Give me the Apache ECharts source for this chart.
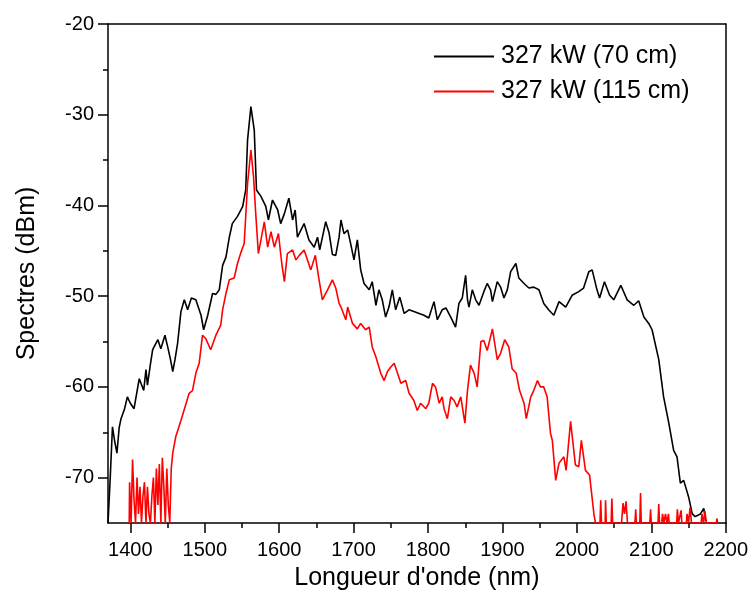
<!DOCTYPE html>
<html>
<head>
<meta charset="utf-8">
<script src="https://cdn.jsdelivr.net/npm/echarts@6/dist/echarts.min.js"></script>
<style>
  html, body { margin: 0; padding: 0; background: #fff; }
  #main { width: 751px; height: 601px; }
</style>
</head>
<body>
<div id="main"></div>
<script>
// spectre 327 kW, 70 cm de fibre
var blackNm = [1370, 1373, 1376, 1379, 1382, 1385, 1387.5, 1392, 1396, 1400, 1405, 1409, 1412, 1418, 1421, 1423, 1427, 1430, 1437, 1441,
  1446.5, 1450, 1454, 1457, 1460, 1463.5, 1468, 1472.5, 1477, 1482, 1488, 1495, 1498.5, 1504, 1510.5, 1515, 1519.5, 1524, 1528.5, 1533,
  1537, 1544, 1551, 1555, 1557.5, 1562, 1566.5, 1569.5, 1575.5, 1582, 1585.5, 1591, 1598, 1602, 1607, 1613, 1618, 1621.5, 1624.5, 1633.5,
  1640, 1647, 1651.5, 1654.5, 1662.5, 1667, 1671.5, 1676, 1680.5, 1683, 1687, 1692, 1696, 1700.5, 1705, 1709.5, 1714, 1721, 1725, 1730,
  1734, 1738.5, 1743, 1747.5, 1752, 1756.5, 1762, 1768, 1774.5, 1781, 1788, 1794.5, 1801, 1808, 1812.5, 1819, 1824, 1830.5, 1837, 1841.5,
  1846, 1850.5, 1853, 1855, 1859.5, 1864, 1868.5, 1875, 1879.5, 1884, 1886.5, 1893, 1897.5, 1902, 1906.5, 1911, 1918, 1922, 1929, 1935.5,
  1942, 1949, 1955.5, 1962, 1969, 1976, 1985, 1993.5, 2002.5, 2009, 2016, 2020.5, 2027, 2030.5, 2037, 2044, 2049.5, 2059, 2067.5, 2076.5,
  2083, 2090, 2096.5, 2101, 2110, 2116.5, 2123.5, 2130, 2134.5, 2139, 2143.5, 2150, 2155, 2159, 2166, 2170.5, 2173];
var blackDb = [-75, -70, -64.4, -66, -67.3, -64.5, -63.5, -62.5, -61.1, -61.8, -62.4, -60.5, -59.1, -60.4, -58.1, -59.8, -57.5, -55.9, -54.8, -55.8,
  -54.3, -55.5, -57, -58.3, -57, -55.2, -51.7, -50.4, -51.5, -50.2, -50.4, -52.1, -53.7, -52.1, -49.7, -49.8, -49.3, -46.6, -45.7, -43.5,
  -42.0, -41.2, -40.1, -38.3, -32.8, -29.1, -31.7, -38.3, -39.0, -40.1, -41.6, -39.4, -40.5, -42.0, -40.9, -39.2, -41.6, -40.5, -43.5, -42.0,
  -43.8, -44.6, -43.5, -44.9, -41.8, -43, -45.4, -45.5, -43.5, -41.6, -43.1, -42.7, -44.2, -46.0, -43.8, -47.1, -48.6, -49.3, -48.4, -51.0,
  -49.3, -50.4, -52.3, -51.2, -49.3, -51.5, -50.1, -51.9, -51.5, -51.7, -51.9, -52.1, -52.4, -50.6, -52.6, -51.5, -51.3, -52.3, -53.4, -50.8,
  -50.2, -47.7, -50.4, -51.2, -49.3, -50.4, -51.0, -49.5, -48.6, -49.3, -50.6, -48.4, -49.0, -50.2, -49.3, -47.3, -46.4, -48.0, -48.6, -49.1,
  -49.0, -49.3, -50.8, -51.5, -52.1, -50.6, -51.2, -49.9, -49.5, -49.1, -47.3, -47.1, -49.3, -50.2, -48.4, -49.9, -50.4, -48.8, -50.4, -51.0,
  -50.5, -52.3, -53.0, -53.7, -57.0, -61.1, -64.0, -67.0, -67.7, -70.6, -70.3, -72.1, -74.0, -74.3, -74.0, -73.4, -74.8];

// spectre 327 kW, 115 cm de fibre
var redNm = [1398.5, 1399, 1401, 1403, 1405, 1407, 1409, 1411, 1413, 1415, 1417, 1419, 1421, 1423, 1425, 1427, 1429, 1431, 1433, 1435,
  1437, 1439, 1441, 1443, 1445, 1447, 1449, 1451, 1453, 1455, 1457, 1461, 1468, 1475, 1479, 1483.5, 1488, 1492.5, 1497, 1501.5,
  1508, 1515, 1521.5, 1524, 1528.5, 1533, 1539.5, 1544, 1548.5, 1553, 1557.5, 1562, 1565.5, 1568.5, 1572, 1575.5, 1580, 1584.5, 1589, 1593.5,
  1599, 1603.5, 1607, 1611, 1618, 1622.5, 1627, 1633.5, 1638, 1642.5, 1648.5, 1653, 1658, 1665, 1671.5, 1676, 1680.5, 1683, 1689.5, 1692,
  1698.5, 1705, 1709.5, 1716, 1721, 1725, 1730, 1736.5, 1741, 1745.5, 1750, 1754.5, 1759, 1763.5, 1770, 1774.5, 1781, 1785.5, 1790, 1797,
  1801, 1806, 1810, 1815, 1819, 1821.5, 1826, 1830.5, 1835, 1839, 1844, 1849.5, 1853, 1857, 1862, 1866, 1871, 1875, 1879.5, 1886.5,
  1893, 1897.5, 1903, 1908.5, 1913, 1918.5, 1923, 1929, 1932, 1938, 1942, 1947, 1951, 1955.5, 1960, 1964.5, 1967, 1971.5, 1976, 1982.5,
  1985.5, 1991.5, 1998, 2002.5, 2006, 2011.5, 2017, 2023, 2025, 2031, 2032, 2033, 2038, 2038.5, 2039.5, 2046, 2047, 2048, 2060, 2062,
  2064, 2066, 2068, 2078, 2079, 2080, 2084.5, 2085.5, 2086.5, 2098, 2099, 2100, 2109, 2110, 2111, 2114, 2115, 2117, 2119, 2121,
  2123, 2124, 2134, 2135, 2136.5, 2140, 2141, 2147, 2148, 2150, 2152, 2154, 2167, 2168, 2170, 2172, 2174, 2187.5, 2188, 2189];
var redDb = [-75, -70.5, -75, -68, -72.5, -75, -70, -74, -71, -75, -72, -70.5, -75, -71, -74, -75, -72, -70, -75, -69,
  -73, -68.5, -75, -67.8, -71, -75, -69, -73, -75, -69, -67.3, -65.5, -63.7, -61.8, -60.7, -60.4, -58.5, -57.4, -54.3, -54.7,
  -55.9, -54.3, -53.2, -51.5, -49.7, -48.2, -48.0, -46.4, -45.2, -44.2, -37.6, -33.9, -36.8, -40.9, -45.3, -43.8, -41.8, -44.6, -42.9, -44.6,
  -43.1, -46.4, -48.4, -45.3, -44.9, -46.0, -45.5, -44.9, -46.0, -47.1, -45.5, -47.9, -50.4, -49.3, -48.2, -49.1, -50.8, -51.2, -52.6, -51.2,
  -53.0, -53.6, -53.0, -53.7, -53.4, -55.6, -56.7, -58.5, -59.3, -58.3, -57.8, -57.4, -58.5, -59.6, -59.3, -60.7, -61.5, -62.6, -61.8, -62.4,
  -61.8, -59.6, -60.0, -61.8, -61.1, -62.4, -63.5, -61.1, -61.5, -62.2, -61.1, -64.0, -60.4, -57.6, -58.5, -60.0, -55.0, -54.9, -56.0, -53.6,
  -57.0, -56.3, -54.8, -55.6, -58.0, -58.5, -60.4, -61.8, -63.5, -61.1, -60.4, -59.3, -60.0, -60.0, -61.1, -65.1, -65.9, -70.3, -68.4, -67.7,
  -69.2, -63.8, -68.6, -68.8, -65.9, -69.2, -69.7, -74.1, -75, -75, -72.5, -75, -75, -72.5, -75, -75, -72.3, -75, -75, -72.8,
  -74, -72.6, -75, -75, -73.5, -75, -75, -71.7, -75, -75, -73.5, -75, -75, -72.9, -75, -75, -74, -75, -74, -75,
  -74, -75, -75, -73.5, -75, -73.6, -75, -75, -74, -75, -73.3, -75, -75, -74, -75, -73.7, -75, -75, -74.5, -75];

var xTicks = [1400, 1500, 1600, 1700, 1800, 1900, 2000, 2100, 2200];
var xMinorTicks = [1450, 1550, 1650, 1750, 1850, 1950, 2050, 2150];
var yTicks = [-70, -60, -50, -40, -30, -20];
var yMinorTicks = [-65, -55, -45, -35, -25];
var seriesNames = ['327 kW (70 cm)', '327 kW (115 cm)'];

function pairs(xs, ys) {
    return xs.map(function (x, i) { return [x, ys[i]]; });
}

function plain(v) { return String(v); }

var font = 'Liberation Sans';
var axisLineStyle = { color: '#000', width: 1.5 };
var myChart = echarts.init(document.getElementById('main'));
myChart.setOption({
    animation: false,
    backgroundColor: '#fff',
    grid: {
        left: 108,
        right: 24,
        top: 24,
        bottom: 78
    },
    legend: {
        orient: 'vertical',
        left: 429,
        top: 39,
        icon: 'rect',
        itemWidth: 60,
        itemHeight: 2,
        itemGap: 10,
        data: seriesNames,
        textStyle: { fontFamily: font, fontSize: 25, color: '#000', padding: [0, 0, 0, 2] }
    },
    xAxis: [{
        type: 'value',
        min: 1370,
        max: 2200,
        name: "Longueur d'onde (nm)",
        nameLocation: 'middle',
        nameGap: 43,
        nameTextStyle: { fontFamily: font, fontSize: 25, color: '#000' },
        axisLine: { show: true, onZero: false, lineStyle: axisLineStyle },
        axisTick: {
            show: true, inside: false, length: 10,
            lineStyle: axisLineStyle,
            customValues: xTicks
        },
        axisLabel: {
            show: true, margin: 17, color: '#000', fontFamily: font, fontSize: 20,
            customValues: xTicks,
            formatter: plain
        },
        splitLine: { show: false }
    }, {
        type: 'value',
        min: 1370,
        max: 2200,
        position: 'bottom',
        axisLine: { show: false },
        axisTick: {
            show: true, inside: false, length: 5,
            lineStyle: axisLineStyle,
            customValues: xMinorTicks
        },
        axisLabel: { show: false, customValues: xMinorTicks },
        splitLine: { show: false }
    }, {
        type: 'value',
        min: 1370,
        max: 2200,
        position: 'top',
        axisLine: { show: true, lineStyle: axisLineStyle },
        axisTick: { show: false },
        axisLabel: { show: false },
        splitLine: { show: false }
    }],
    yAxis: [{
        type: 'value',
        min: -75,
        max: -20,
        name: 'Spectres (dBm)',
        nameLocation: 'middle',
        nameGap: 68,
        nameTextStyle: { fontFamily: font, fontSize: 25, color: '#000' },
        axisLine: { show: true, onZero: false, lineStyle: axisLineStyle },
        axisTick: {
            show: true, inside: false, length: 10,
            lineStyle: axisLineStyle,
            customValues: yTicks
        },
        axisLabel: {
            show: true, margin: 14, color: '#000', fontFamily: font, fontSize: 20,
            customValues: yTicks,
            formatter: plain
        },
        splitLine: { show: false }
    }, {
        type: 'value',
        min: -75,
        max: -20,
        position: 'left',
        axisLine: { show: false },
        axisTick: {
            show: true, inside: false, length: 5,
            lineStyle: axisLineStyle,
            customValues: yMinorTicks
        },
        axisLabel: { show: false, customValues: yMinorTicks },
        splitLine: { show: false }
    }, {
        type: 'value',
        min: -75,
        max: -20,
        position: 'right',
        axisLine: { show: true, lineStyle: axisLineStyle },
        axisTick: { show: false },
        axisLabel: { show: false },
        splitLine: { show: false }
    }],
    series: [
        {
            name: seriesNames[0],
            type: 'line',
            symbol: 'none',
            color: '#000000',
            lineStyle: { color: '#000000', width: 1.6 },
            data: pairs(blackNm, blackDb)
        },
        {
            name: seriesNames[1],
            type: 'line',
            symbol: 'none',
            color: '#ff0000',
            lineStyle: { color: '#ff0000', width: 1.6 },
            data: pairs(redNm, redDb)
        }
    ]
});
</script>
</body>
</html>
